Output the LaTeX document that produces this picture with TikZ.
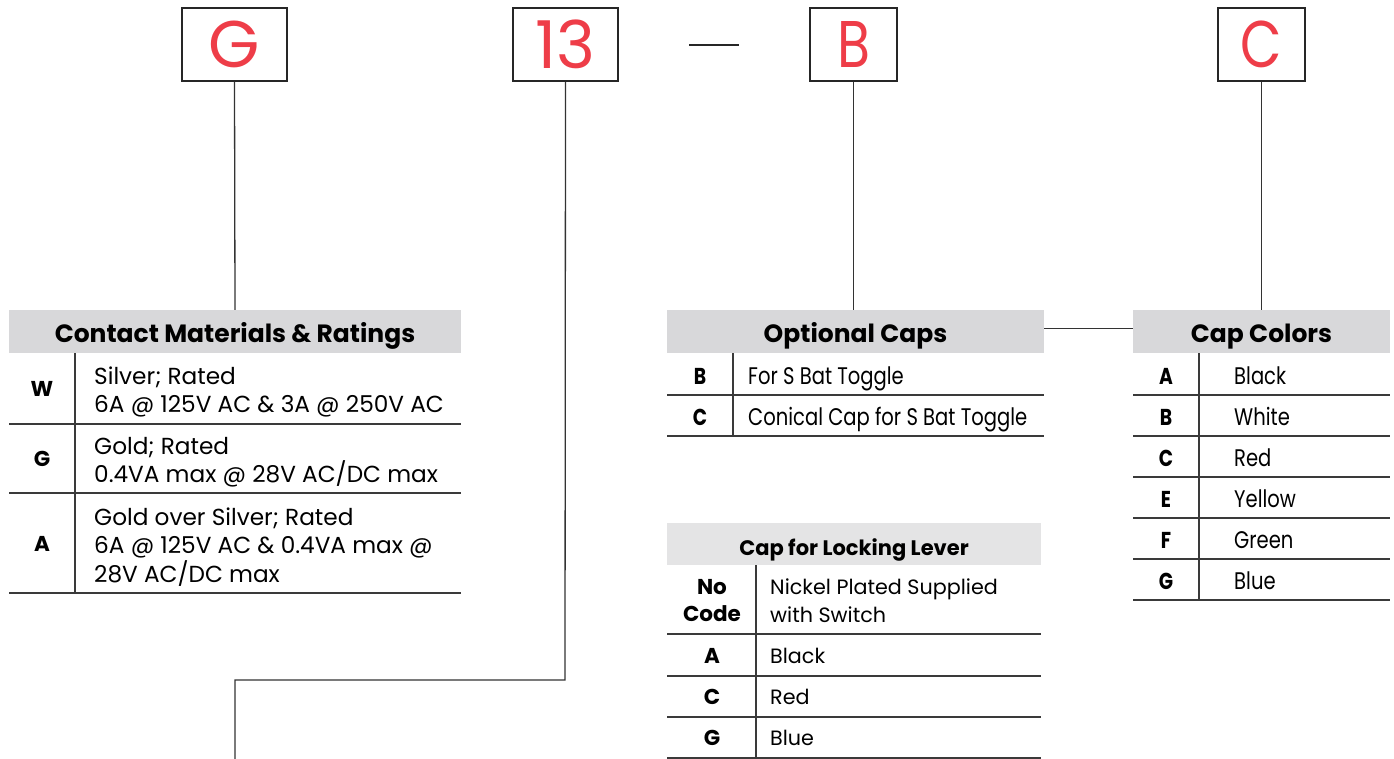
\documentclass[tikz,border=0pt]{standalone}
\usepackage{fontspec}
\setmainfont{Poppins}
\newfontfamily\condfont{Poppins}[FakeStretch=0.815]
\definecolor{codered}{HTML}{EE3D48}
\definecolor{hdrgray}{HTML}{D8D8DA}
\definecolor{hdrlight}{HTML}{E4E4E5}
\definecolor{rulegray}{HTML}{3A3A3A}
\begin{document}
\begin{tikzpicture}[x=1pt,y=-1pt,
  codebox/.style={draw=black!85, line width=2.5pt, minimum height=73pt, inner sep=0pt, text=codered, font=\fontsize{66}{66}\selectfont},
  hdr/.style={fill=hdrgray, inner sep=0pt, minimum height=43pt, text height=21.5pt, text depth=0pt, font=\bfseries\fontsize{25}{28}\selectfont},
  hdrsmall/.style={fill=hdrlight, inner sep=0pt, minimum height=42pt, text height=22.5pt, text depth=0pt, font=\bfseries\fontsize{21}{24}\selectfont},
  codetxt/.style={inner sep=0pt, font=\bfseries\fontsize{21.5}{27}\selectfont, align=center},
  celltxt/.style={anchor=west, inner sep=0pt, align=left, yshift=-3pt, font=\fontsize{23.2}{28.5}\selectfont},
  locktxt/.style={anchor=west, inner sep=0pt, align=left, font=\fontsize{20.7}{28}\selectfont},
  condtxt/.style={anchor=west, inner sep=0pt, text height=17pt, text depth=6pt, yshift=-3.5pt, font=\condfont\fontsize{24}{28}\selectfont},
  condcode/.style={inner sep=0pt, yshift=-1pt, font=\condfont\bfseries\fontsize{23}{28}\selectfont},
  tline/.style={draw=rulegray, line width=1.5pt},
  conn/.style={draw=black!80, line width=1.3pt}
]
\useasboundingbox (0,0) rectangle (1394,759);

% code boxes
\node[codebox, minimum width=105pt] (bG) at (234.5,44.5) {G};
\node[codebox, minimum width=105pt] (b13) at (565.5,44.5) {13};
\node[inner sep=0pt] (dash) at (714,45) {\textcolor{black!85}{\rule{50pt}{2.5pt}}};
\node[codebox, minimum width=87pt] (bB) at (853.5,44.5) {\condfont B};
\node[codebox, minimum width=87pt] (bC) at (1261.5,44.5) {\condfont C};

% headers
\node[hdr, minimum width=452pt] (cmh) at (235,331.5) {Contact Materials \& Ratings};
\node[hdr, minimum width=377pt] (och) at (855.5,331.5) {Optional Caps};
\node[hdr, minimum width=257pt] (cch) at (1261.5,331.5) {Cap Colors};
\node[hdrsmall, minimum width=374pt] (llh) at (854,544) {Cap for Locking Lever};

% connectors
\draw[conn] (bG.south) -- (cmh.north);
\draw[conn] (bB.south) -- (bB.south |- och.north);
\draw[conn] (bC.south) -- (bC.south |- cch.north);
\draw[conn] ([yshift=3pt]och.east) -- ([yshift=3pt]cch.west);
\coordinate (turn13) at (565,680);
\coordinate (end13) at (235,759);
\draw[conn] (b13.south) -- (turn13) -| (end13);

% Contact Materials table
\draw[tline] (75,353) -- (75,593);
\foreach \yy in {424,493,593} \draw[tline] (9,\yy) -- (461,\yy);
\node[codetxt] (cW) at (42,389) {W};
\node[codetxt] (cG) at (42,459) {G};
\node[codetxt] (cA) at (42,544) {A};
\node[celltxt] (tW) at (94,389) {Silver; Rated\\6A @ 125V AC \& 3A @ 250V AC};
\node[celltxt] (tG) at (94,459) {Gold; Rated\\0.4VA max @ 28V AC/DC max};
\node[celltxt] (tA) at (94,544) {Gold over Silver; Rated\\6A @ 125V AC \& 0.4VA max @\\28V AC/DC max};

% Optional caps table
\draw[tline] (733,353) -- (733,436);
\foreach \yy in {395,436} \draw[tline] (667,\yy) -- (1044,\yy);
\node[condcode] (oB) at (700,375) {B};
\node[condcode] (oC) at (700,416) {C};
\node[condtxt] (toB) at (748,375) {For S Bat Toggle};
\node[condtxt] (toC) at (748,416) {Conical Cap for S Bat Toggle};

% Cap colors table
\draw[tline] (1199,353) -- (1199,600);
\foreach \yy in {395,436,477,518,559,600} \draw[tline] (1133,\yy) -- (1390,\yy);
\foreach \cc/\tt/\yy in {A/Black/375, B/White/416, C/Red/457, E/Yellow/498, F/Green/539, G/Blue/580}{
  \node[condcode] (cc\cc) at (1166,\yy) {\cc};
  \node[condtxt] (ct\cc) at (1234,\yy) {\tt};
}

% Locking lever table
\draw[tline] (756,565) -- (756,758);
\foreach \yy in {634,676,717,758} \draw[tline] (667,\yy) -- (1041,\yy);
\node[codetxt] (lNo) at (712,601) {No\\Code};
\node[codetxt] (lA) at (712,656) {A};
\node[codetxt] (lC) at (712,697) {C};
\node[codetxt] (lG) at (712,738) {G};
\node[locktxt] (tlNo) at (770,601) {Nickel Plated Supplied\\with Switch};
\node[locktxt] (tlA) at (770,656) {Black};
\node[locktxt] (tlC) at (770,697) {Red};
\node[locktxt] (tlG) at (770,738) {Blue};
\end{tikzpicture}
\end{document}
